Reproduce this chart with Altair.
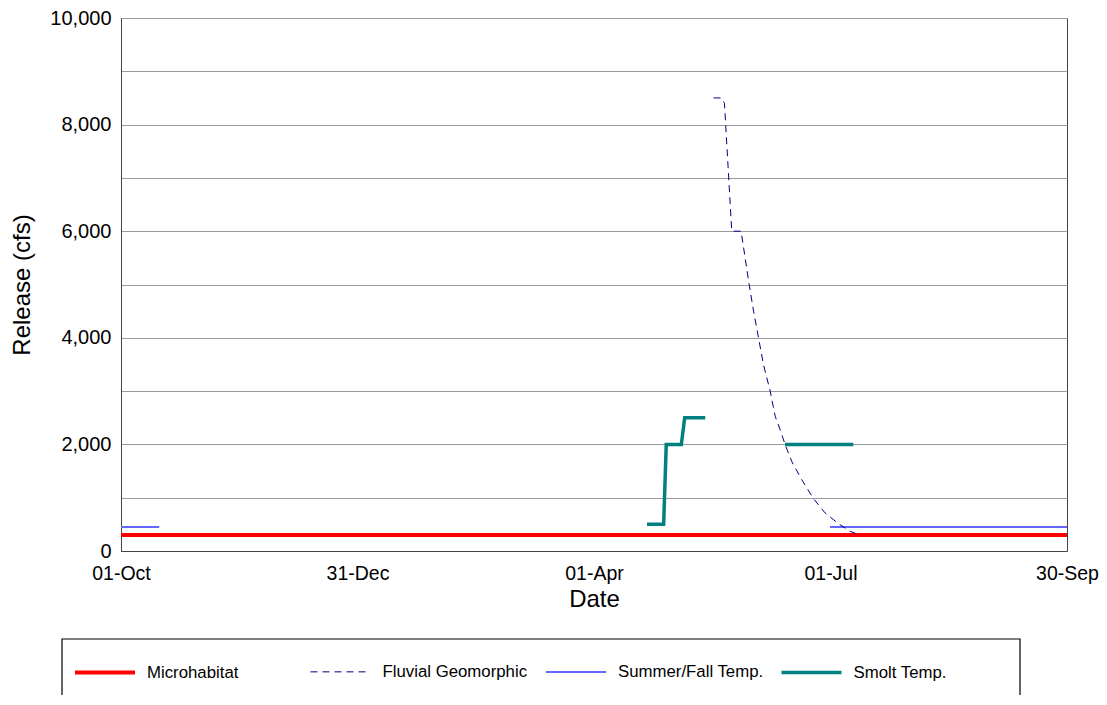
import altair as alt
import pandas as pd

SERIES = ["Microhabitat", "Fluvial Geomorphic", "Summer/Fall Temp.", "Smolt Temp."]
COLORS = ["#ff0000", "#000080", "#6666ff", "#008080"]
DASHES = [[1, 0], [7, 5], [1, 0], [1, 0]]
WIDTHS = [4, 1, 2, 3.5]

TICK_DAYS = [0, 91, 182, 273, 364]
TICK_LABELS = ["01-Oct", "31-Dec", "01-Apr", "01-Jul", "30-Sep"]

# days since 01-Oct
micro_day = [0, 364]
micro_cfs = [300, 300]

fluvial_day = [228, 231, 232.2, 235, 238.6, 241.7, 243.4, 245.3, 247.2, 249.8,
               251.7, 253.6, 255.5, 258.1, 261.9, 266.4, 270.9, 276, 280.5, 283.7]
fluvial_cfs = [8500, 8500, 8400, 6000, 6000, 5000, 4500, 4000, 3500, 3000,
               2530, 2280, 2000, 1680, 1340, 985, 715, 515, 370, 310]

summer1_day = [0, 14.7]
summer1_cfs = [450, 450]
summer2_day = [272.8, 364]
summer2_cfs = [450, 450]

smolt1_day = [202.4, 208.8, 209.8, 215.6, 216.9, 224.8]
smolt1_cfs = [500, 500, 2000, 2000, 2500, 2500]
smolt2_day = [255.5, 281.8]
smolt2_cfs = [2000, 2000]

rows = []
def add(series, seg, days, vals):
    for d, v in zip(days, vals):
        rows.append({"series": series, "seg": seg, "day": d, "cfs": v})

add("Microhabitat", "m", micro_day, micro_cfs)
add("Summer/Fall Temp.", "s1", summer1_day, summer1_cfs)
add("Summer/Fall Temp.", "s2", summer2_day, summer2_cfs)
add("Smolt Temp.", "t1", smolt1_day, smolt1_cfs)
add("Smolt Temp.", "t2", smolt2_day, smolt2_cfs)
add("Fluvial Geomorphic", "f", fluvial_day, fluvial_cfs)
df = pd.DataFrame(rows)

FONT = "Liberation Sans"
label_expr = "{}[indexof({}, datum.value)]".format(
    "[" + ",".join("'%s'" % t for t in TICK_LABELS) + "]",
    "[" + ",".join(str(d) for d in TICK_DAYS) + "]",
)

x = alt.X("day:Q", scale=alt.Scale(domain=[0, 364], nice=False, zero=False),
          axis=alt.Axis(values=TICK_DAYS, labelExpr=label_expr, title="Date",
                        grid=False, ticks=False, labelPadding=13.5,
                        labelFontSize=19.5, titlePadding=4.5, labelFlush=False))
y = alt.Y("cfs:Q", scale=alt.Scale(domain=[0, 10000], nice=False),
          axis=alt.Axis(values=list(range(0, 10001, 1000)),
                        labelExpr="datum.value % 2000 == 0 ? format(datum.value, ',') : ''",
                        title="Release (cfs)", ticks=False, grid=True,
                        gridColor="#9a9a9a", labelPadding=10, titlePadding=15))
color = alt.Color("series:N", scale=alt.Scale(domain=SERIES, range=COLORS),
                  legend=alt.Legend(title=None))
dash = alt.StrokeDash("series:N", scale=alt.Scale(domain=SERIES, range=DASHES),
                      legend=alt.Legend(title=None))
width = alt.StrokeWidth("series:N",
                        scale=alt.Scale(type="ordinal", domain=SERIES, range=WIDTHS),
                        legend=alt.Legend(title=None))

base = alt.Chart(df).mark_line(clip=True).encode(
    x=x, y=y, color=color, strokeDash=dash, strokeWidth=width, detail="seg:N")

layers = [base.transform_filter(alt.datum.series == s)
          for s in ["Microhabitat", "Summer/Fall Temp.", "Smolt Temp.", "Fluvial Geomorphic"]]

# frame around the legend (decoration, placed in pixels below the plot)
legend_frame = alt.Chart(alt.Data(values=[{"k": 1}])).mark_rect(
    fill=None, stroke="black", strokeWidth=1.2, clip=False
).encode(x=alt.value(-59), x2=alt.value(899), y=alt.value(621), y2=alt.value(720))

chart = alt.layer(legend_frame, *layers).properties(
    width=946, height=533,
    autosize=alt.AutoSizeParams(type="none"),
    padding={"left": 113, "top": 10, "right": 32, "bottom": 144},
).configure_view(
    stroke="#444", strokeWidth=1
).configure_axis(
    labelFont=FONT, titleFont=FONT, labelFontSize=20, titleFontSize=24,
    titleFontWeight="normal", labelColor="black", titleColor="black",
    domainColor="#444"
).configure_legend(
    orient="none", legendX=-48, legendY=622.5, direction="horizontal",
    columns=4, gridAlign="all", columnPadding=10.5,
    symbolType="stroke", symbolSize=3600, labelFont=FONT, labelFontSize=16.8,
    labelColor="black", labelOffset=10, labelLimit=0, padding=0
)

chart.save("out.html", embed_options={"renderer": "svg", "actions": False})
